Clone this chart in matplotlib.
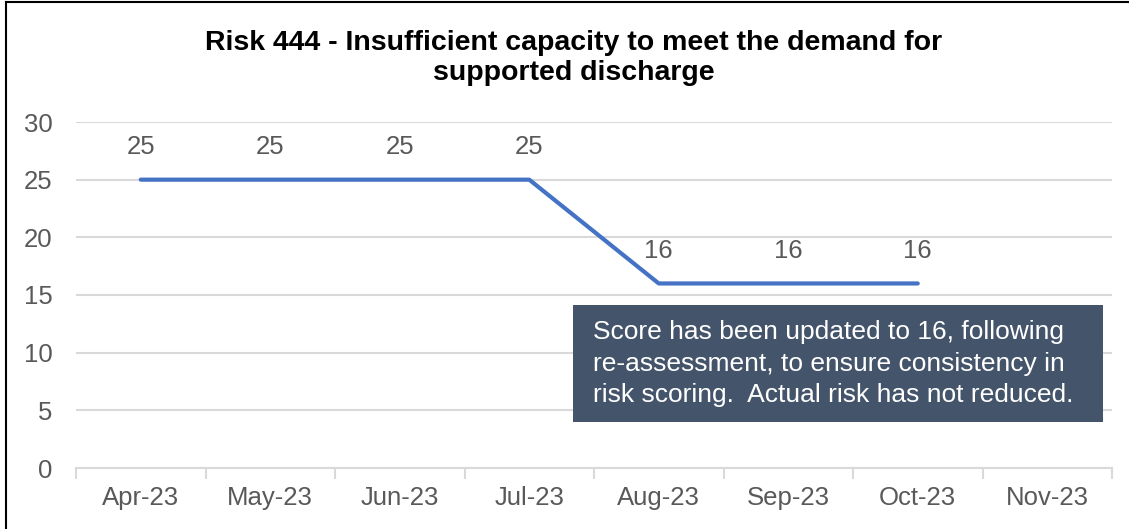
import numpy as np
import matplotlib
matplotlib.use("Agg")
import matplotlib.pyplot as plt
from matplotlib.patches import Rectangle
from matplotlib.lines import Line2D

plt.rcParams['font.family'] = ['Liberation Sans', 'DejaVu Sans']

months = ["Apr-23", "May-23", "Jun-23", "Jul-23", "Aug-23", "Sep-23", "Oct-23", "Nov-23"]
scores = [25, 25, 25, 25, 16, 16, 16, np.nan]
y_ticks = [0, 5, 10, 15, 20, 25, 30]
title = "Risk 444 - Insufficient capacity to meet the demand for\nsupported discharge"
note = ("Score has been updated to 16, following\n"
        "re-assessment, to ensure consistency in\n"
        "risk scoring.  Actual risk has not reduced.")

TEXT = "#595959"
GRID = "#D9D9D9"
LINE = "#4472C4"
BOX = "#44546A"

W, H = 1129, 529
fig = plt.figure(figsize=(W / 100, H / 100), dpi=100)
ax = fig.add_axes([76 / W, 61 / H, (1112 - 76) / W, (468 - 122) / H])

x = np.arange(len(months))
ax.plot(x, scores, color=LINE, lw=3, solid_capstyle='round', zorder=3)
for xi, v in zip(x, scores):
    if not np.isnan(v):
        ax.annotate(f"{v:g}", (xi, v), xytext=(0, 15), textcoords='offset points',
                    ha='center', va='bottom', fontsize=18.5, color=TEXT)

ax.set_xlim(-0.5, len(months) - 0.5)
ax.set_ylim(0, 30)
ax.set_yticks(y_ticks)
ax.set_xticks(x)
ax.set_xticklabels(months)
ax.set_xticks(np.arange(-0.5, len(months)), minor=True)
ax.tick_params(axis='x', which='major', length=0, pad=13, labelsize=18.5, labelcolor=TEXT)
ax.tick_params(axis='x', which='minor', length=8, width=1.5, color=GRID)
ax.tick_params(axis='y', length=0, pad=17, labelsize=18.5, labelcolor=TEXT)
ax.grid(axis='y', color=GRID, lw=1.5, zorder=0)
for s in ['top', 'right', 'left']:
    ax.spines[s].set_visible(False)
ax.spines['bottom'].set_color(GRID)
ax.spines['bottom'].set_linewidth(1.5)

# note box
bx0, bx1 = (573 - 76) / 129.5 - 0.5, (1103 - 76) / 129.5 - 0.5
by0, by1 = (468 - 422) / (346 / 30), (468 - 305) / (346 / 30)
ax.add_patch(Rectangle((bx0, by0), bx1 - bx0, by1 - by0, facecolor=BOX,
                       edgecolor='none', zorder=4))
ax.text(bx0 + 0.155, (by0 + by1) / 2, note, ha='left', va='center', color='white',
        fontsize=19, linespacing=1.42, zorder=5)

fig.text(574 / W, 1 - 58 / H, title, ha='center', va='center', fontsize=20.5,
         fontweight='bold', color='black', linespacing=1.22)

# chart frame
fig.add_artist(Line2D([6 / W, 6 / W], [0, 1 - 2 / H], color='black', lw=1.5,
                      transform=fig.transFigure))
fig.add_artist(Line2D([6 / W, 1], [1 - 2 / H, 1 - 2 / H], color='black', lw=1.5,
                      transform=fig.transFigure))

fig.savefig("out.png", dpi=100)
